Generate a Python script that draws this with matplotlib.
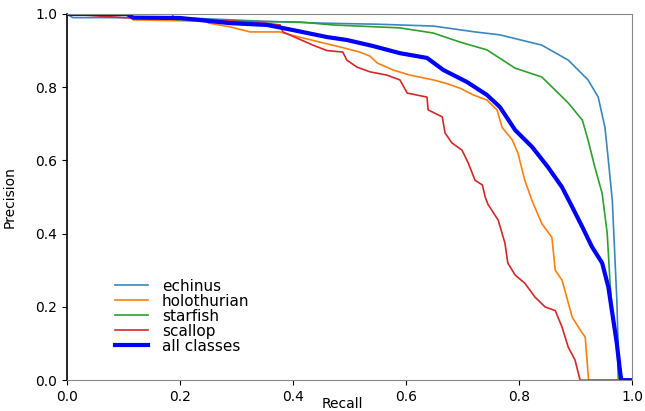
import matplotlib
matplotlib.use("Agg")
import matplotlib.pyplot as plt

# ---- data ----
echinus_r = [0, 0.01, 0.2, 0.35, 0.45, 0.55, 0.648, 0.722, 0.766, 0.84, 0.887, 0.922, 0.94, 0.952, 0.958, 0.965, 0.973, 0.975, 0.976, 1.0]
echinus_p = [1.0, 0.99, 0.99, 0.98, 0.975, 0.972, 0.967, 0.951, 0.943, 0.915, 0.874, 0.82, 0.773, 0.69, 0.60, 0.49, 0.218, 0.11, 0.0, 0.0]

holo_r = [0, 0.105, 0.117, 0.248, 0.25, 0.288, 0.324, 0.377, 0.395, 0.448, 0.483, 0.518, 0.536, 0.549, 0.577, 0.607, 0.648, 0.672,
          0.696, 0.719, 0.743, 0.761, 0.77, 0.788, 0.798, 0.81, 0.823, 0.84, 0.858, 0.864, 0.876, 0.894, 0.912, 0.917, 0.923, 1.0]
holo_p = [1.0, 1.0, 0.984, 0.98, 0.975, 0.965, 0.951, 0.951, 0.943, 0.923, 0.91, 0.896, 0.885, 0.866, 0.847, 0.833, 0.82, 0.81,
          0.797, 0.779, 0.765, 0.738, 0.69, 0.656, 0.62, 0.546, 0.49, 0.428, 0.39, 0.30, 0.273, 0.172, 0.128, 0.118, 0.0, 0.0]

star_r = [0, 0.186, 0.19, 0.3, 0.412, 0.471, 0.589, 0.648, 0.696, 0.743, 0.793, 0.84, 0.864, 0.887, 0.912, 0.922, 0.934, 0.947,
          0.956, 0.961, 0.966, 0.973, 0.976, 1.0]
star_p = [1.0, 1.0, 0.985, 0.98, 0.978, 0.97, 0.962, 0.948, 0.923, 0.902, 0.852, 0.828, 0.792, 0.757, 0.71, 0.656, 0.582, 0.51,
          0.40, 0.265, 0.17, 0.11, 0.0, 0.0]

scallop_r = [0, 0.1, 0.24, 0.3, 0.35, 0.377, 0.382, 0.407, 0.435, 0.46, 0.488, 0.495, 0.513, 0.536, 0.566, 0.589, 0.602, 0.637,
             0.639, 0.664, 0.669, 0.681, 0.699, 0.71, 0.722, 0.735, 0.74, 0.745, 0.763, 0.775, 0.78, 0.793, 0.81, 0.828,
             0.846, 0.864, 0.876, 0.887, 0.899, 0.908, 1.0]
scallop_p = [1.0, 0.99, 0.985, 0.98, 0.975, 0.97, 0.951, 0.934, 0.915, 0.90, 0.896, 0.874, 0.855, 0.842, 0.833, 0.82, 0.784, 0.773,
             0.738, 0.719, 0.675, 0.648, 0.628, 0.593, 0.546, 0.533, 0.50, 0.48, 0.437, 0.374, 0.32, 0.287, 0.265, 0.227,
             0.20, 0.19, 0.145, 0.09, 0.055, 0.0, 0.0]

all_r = [0, 0.106, 0.117, 0.2, 0.288, 0.354, 0.40, 0.46, 0.495, 0.54, 0.589, 0.637, 0.666, 0.708, 0.743, 0.766, 0.793, 0.823,
         0.851, 0.876, 0.894, 0.912, 0.929, 0.947, 0.958, 0.966, 0.973, 0.979, 0.981, 1.0]
all_p = [1.0, 1.0, 0.99, 0.989, 0.975, 0.97, 0.956, 0.937, 0.929, 0.913, 0.893, 0.88, 0.847, 0.814, 0.779, 0.746, 0.683, 0.637,
         0.582, 0.527, 0.473, 0.418, 0.364, 0.32, 0.254, 0.172, 0.10, 0.02, 0.0, 0.0]

labels = ["echinus", "holothurian", "starfish", "scallop", "all classes"]
ticks = [0.0, 0.2, 0.4, 0.6, 0.8, 1.0]

# ---- figure ----
fig = plt.figure(figsize=(6.45, 4.11), dpi=100)
ax = fig.add_axes([0.104, 0.075, 0.876, 0.891])

series = [(echinus_r, echinus_p, "#3a87bd", 1.2),
          (holo_r, holo_p, "#ff7f0e", 1.2),
          (star_r, star_p, "#2ca02c", 1.2),
          (scallop_r, scallop_p, "#d62728", 1.2),
          (all_r, all_p, "#0000ff", 3.0)]
for (r, p, c, lw), lab in zip(series, labels):
    ax.plot(r, p, color=c, lw=lw, label=lab)

ax.set_xlim(0, 1)
ax.set_ylim(0, 1)
ax.set_xticks(ticks)
ax.set_yticks(ticks)
ax.set_xticklabels([f"{t:.1f}" for t in ticks], fontsize=10)
ax.set_yticklabels([f"{t:.1f}" for t in ticks], fontsize=10)
ax.set_xlabel("Recall", fontsize=10)
ax.xaxis.set_label_coords(0.487, -0.046)
ax.set_ylabel("Precision", fontsize=10)
ax.yaxis.set_label_coords(-0.09, 0.5)

for side in ["top", "right", "bottom"]:
    ax.spines[side].set_color("#888888")
ax.spines["left"].set_color("black")
ax.spines["left"].set_linewidth(1.2)

leg = ax.legend(loc="lower left", bbox_to_anchor=(0.06, 0.035), frameon=False, fontsize=11,
                handlelength=2.2, labelspacing=0.0, handletextpad=0.9)

fig.savefig("out.png", dpi=100)
